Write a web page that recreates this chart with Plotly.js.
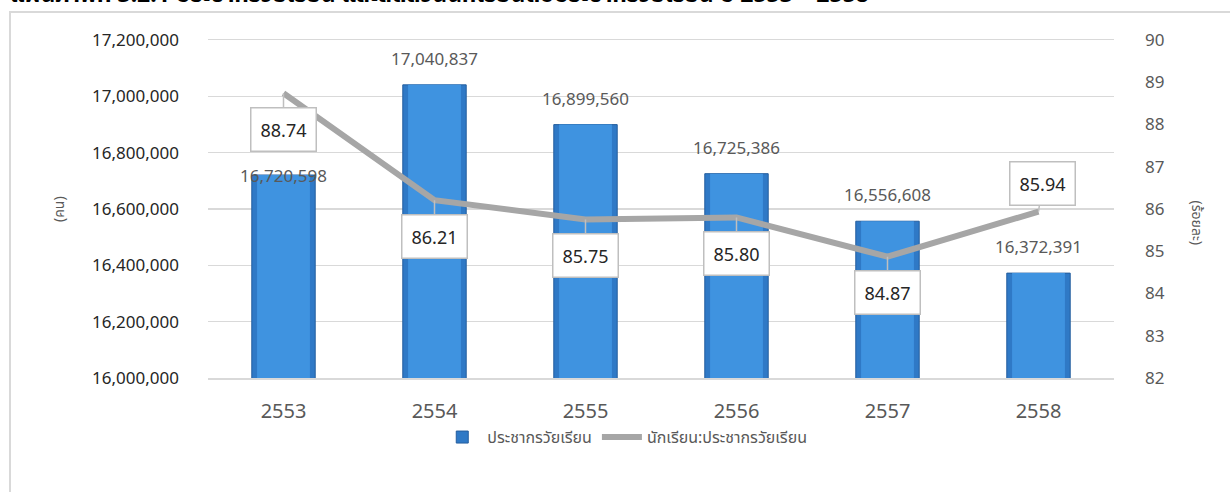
<!DOCTYPE html>
<html><head><meta charset="utf-8">
<script src="https://cdn.plot.ly/plotly-3.0.1.min.js"></script>
<style>
html,body{margin:0;padding:0;overflow:hidden;background:#fff}
#chart{position:absolute;left:0;top:0;width:1230px;height:492px}
#frame{position:absolute;left:9px;top:11px;width:1300px;height:600px;border-left:2px solid #D9D9D9;border-top:2px solid #D9D9D9;pointer-events:none}
#cut{position:absolute;left:10px;top:-23px;line-height:22px;font:bold 23px 'Noto Sans','Noto Sans Thai',sans-serif;white-space:nowrap;color:#000}
</style></head><body>
<div id="chart"></div><div id="frame"></div>
<div id="cut">แผนภาพที่ 3.2.1 ประชากรวัยเรียน และสัดส่วนนักเรียนต่อประชากรวัยเรียน ปี 2553 – 2558</div>
<script>
const years = ['2553','2554','2555','2556','2557','2558'];
const population = [16720598,17040837,16899560,16725386,16556608,16372391];
const ratio = [88.74,86.21,85.75,85.80,84.87,85.94];
const seriesNames = ['ประชากรวัยเรียน','นักเรียน:ประชากรวัยเรียน'];
const leftTitle = '(คน)';
const rightTitle = '(ร้อยละ)';

const FONT = "'Noto Sans', 'Noto Sans Thai', sans-serif";
const GREY = '#595959';

const traces = [
  {type:'bar', x:years, y:population, name:seriesNames[0], width:0.42,
   marker:{color:'#2F79C6', line:{color:'#245E9E', width:1}}, hoverinfo:'skip'},
  {type:'bar', x:years, y:population, showlegend:false, width:0.35,
   marker:{color:'#3F93E0'}, hoverinfo:'skip'},
  {type:'scatter', mode:'lines', x:years, y:ratio, yaxis:'y2', name:seriesNames[1],
   line:{color:'#A6A6A6', width:6}, hoverinfo:'skip'}
];

const annotations = [];
population.forEach((v,i)=>{
  const first = i===0;
  annotations.push({x:i, y:v, xref:'x', yref:'y', showarrow:false,
    text:v.toLocaleString('en-US'), yanchor: first?'middle':'bottom', yshift: first?0:13,
    font:{family:FONT, size:17, color:GREY}});
});
ratio.forEach((v,i)=>{
  const above = i===ratio.length-1;
  annotations.push({x:i, y:v, xref:'x', yref:'y2', showarrow:true,
    arrowhead:0, arrowwidth:1.5, arrowcolor:'#BFBFBF', ax: above?4:0, ay: above?-28:36,
    text:v.toFixed(2), bgcolor:'#fff', bordercolor:'#BFBFBF', borderwidth:1.5, borderpad:9,
    font:{family:FONT, size:18, color:'#262626'}});
});
annotations.push({xref:'paper', yref:'paper', x:-0.1656, y:0.5, xanchor:'center', yanchor:'middle',
  text:leftTitle, showarrow:false, textangle:-90, font:{family:FONT, size:14, color:GREY}});
annotations.push({xref:'paper', yref:'paper', x:1.0916, y:0.46, xanchor:'center', yanchor:'middle',
  text:rightTitle, showarrow:false, textangle:90, font:{family:FONT, size:14, color:GREY}});

const layout = {
  width:1230, height:492,
  margin:{l:208, r:116, t:40, b:114},
  paper_bgcolor:'#fff', plot_bgcolor:'#fff',
  barmode:'overlay', showlegend:true,
  font:{family:FONT, color:GREY},
  xaxis:{type:'category', range:[-0.5, years.length-0.5], autorange:false, showgrid:false,
    zeroline:false, showline:true, mirror:true, linecolor:'#D9D9D9', linewidth:1.5, ticks:'',
    tickfont:{family:FONT, size:20, color:GREY}, ticklabelstandoff:14},
  yaxis:{range:[16000000,17200000], autorange:false, tick0:16000000, dtick:200000, tickformat:',d', showgrid:true,
    gridcolor:'#D9D9D9', gridwidth:1.5, zeroline:false, showline:false, ticks:'',
    tickfont:{family:FONT, size:17, color:'#262626'}, ticklabelstandoff:28},
  yaxis2:{overlaying:'y', side:'right', range:[82, 90], autorange:false, tick0:82, dtick:1, showgrid:false,
    zeroline:false, showline:false, ticks:'', tickfont:{family:FONT, size:17, color:GREY},
    ticklabelstandoff:30},
  legend:{orientation:'h', x:0.46, xanchor:'center', y:-0.175, yanchor:'middle',
    font:{family:FONT, size:16, color:GREY}, itemwidth:40},
  annotations:annotations
};
Plotly.newPlot('chart', traces, layout, {displayModeBar:false, staticPlot:true});
</script>
</body></html>
